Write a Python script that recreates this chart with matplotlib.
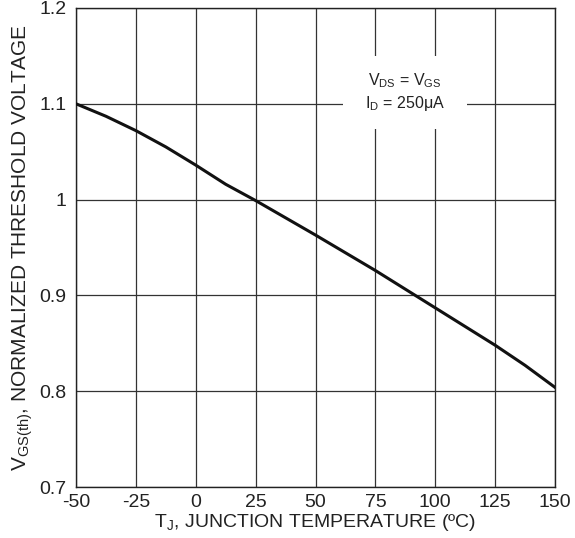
import matplotlib
matplotlib.use("Agg")
import matplotlib.pyplot as plt
from matplotlib.patches import Rectangle

plt.rcParams['font.family'] = ['Liberation Sans', 'DejaVu Sans']
plt.rcParams['mathtext.fontset'] = 'custom'
plt.rcParams['mathtext.rm'] = 'Liberation Sans'
plt.rcParams['axes.unicode_minus'] = False

temp = [-50, -37.5, -25, -12.5, 0, 12.5, 25, 50, 75, 100, 125, 137.5, 150]
vth = [1.100, 1.087, 1.072, 1.055, 1.036, 1.016, 0.999, 0.963, 0.926, 0.887, 0.848, 0.827, 0.804]
xticks = [-50, -25, 0, 25, 50, 75, 100, 125, 150]
yticks = [0.7, 0.8, 0.9, 1.0, 1.1, 1.2]
ytick_labels = ['0.7', '0.8', '0.9', '1', '1.1', '1.2']

fig = plt.figure(figsize=(5.75, 5.38), dpi=100)
ax = fig.add_axes([76/575, 1-487/538, (555-76)/575, (487-8)/538])
ax.set_xlim(-50, 150)
ax.set_ylim(0.7, 1.2)
ax.set_xticks(xticks)
ax.set_yticks(yticks)
ax.set_yticklabels(ytick_labels)
ax.tick_params(length=0, labelsize=14, pad=5, colors='#222222')
ax.tick_params(axis='y', pad=7)
ax.grid(True, color='#333333', lw=0.9)
for s in ax.spines.values():
    s.set_color('#222222')
    s.set_linewidth(1.0)

ax.plot(temp, vth, color='#111111', lw=2.2, zorder=3)

ax.add_patch(Rectangle((61.5, 1.074), 51.8, 0.076, fc='white', ec='none', zorder=2.5))
ax.text(87.4, 1.112, r'V$_{\mathregular{DS}}$ = V$_{\mathregular{GS}}$' + '\n' + r'I$_{\mathregular{D}}$ = 250$\mathregular{\mu}$A',
        ha='center', va='center', fontsize=11.5, color='#222222', linespacing=1.25, zorder=4)

ax.set_xlabel(r'T$_{\mathregular{J}}$, JUNCTION TEMPERATURE (ºC)', fontsize=14, labelpad=1, color='#222222')
ax.set_ylabel(r'V$_{\mathregular{GS(th)}}$, NORMALIZED THRESHOLD VOLTAGE', fontsize=15, labelpad=3, color='#222222')

fig.savefig('out.png', dpi=100)
